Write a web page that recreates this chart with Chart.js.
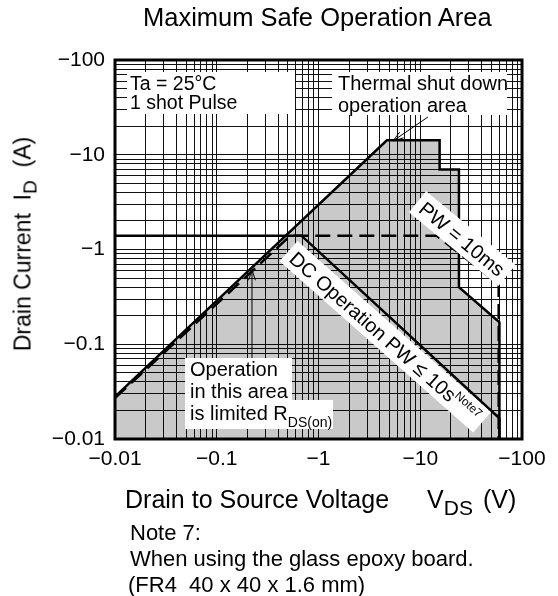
<!DOCTYPE html>
<html>
<head>
<meta charset="utf-8">
<title>Maximum Safe Operation Area</title>
<script src="https://cdn.jsdelivr.net/npm/chart.js@4.4.1/dist/chart.umd.min.js"></script>
<style>
body{
    margin:0;
    background:#fff;
    font-family:"Liberation Sans", Arial, sans-serif;
    color:#000;
}
#page{
    position:relative;
    width:558px;
    height:596px;
    overflow:hidden;
}
#soaChart{
    position:absolute;
    left:0;
    top:0;
}
.txt{
    position:absolute;
    white-space:nowrap;
    line-height:normal;
}
.txt sub{
    vertical-align:-0.32em;
    line-height:0;
}
</style>
</head>
<body>
<div id="page">
    <canvas id="soaChart" width="558" height="596"></canvas>

    <div class="txt" style="left:143px;top:3px;font-size:25.5px;">Maximum Safe Operation Area</div>

    <div class="txt" style="left:23px;top:244px;font-size:23px;transform:translate(-50%,-50%) rotate(-90deg);">Drain Current&nbsp;&nbsp;I<sub style="font-size:19px;">D</sub>&nbsp;&nbsp;(A)</div>

    <div class="txt" style="left:125px;top:485px;font-size:25px;">Drain to Source Voltage<span style="margin-left:38px;">V</span><sub style="font-size:21px;">DS</sub><span style="margin-left:10px;">(V)</span></div>

    <div class="txt" style="left:130px;top:520px;font-size:22px;">Note 7:</div>
    <div class="txt" style="left:130px;top:546px;font-size:22px;">When using the glass epoxy board.</div>
    <div class="txt" style="left:128px;top:572px;font-size:22px;">(FR4&nbsp;&nbsp;40 x 40 x 1.6 mm)</div>
</div>

<script>
/*====================================
        AXIS DECADES AND LABELS
====================================*/

const xDecades = [0.01, 0.1, 1, 10, 100];
const xTickLabels = ["−0.01", "−0.1", "−1", "−10", "−100"];

const yDecades = [0.01, 0.1, 1, 10, 100];
const yTickLabels = ["−0.01", "−0.1", "−1", "−10", "−100"];

const minorSteps = [1, 2, 3, 4, 5, 6, 7, 8, 9];


/*====================================
        SOA CURVES (|VDS| V, |ID| A)
====================================*/

// 1 shot pulse outer limit (shaded area)
const soaVds = [0.01, 4.7, 15.5, 15.5, 24, 24, 60, 60];
const soaId  = [0.028, 14.2, 14.2, 7, 7, 0.4, 0.17, 0.01];

// DC operation PW <= 10 s
const dcVds = [0.01, 0.68, 60, 60];
const dcId  = [1.4, 1.4, 0.0165, 0.01];

// PW = 10 ms (dashed)
const pwVds = [0.01, 0.53, 14.5, 59, 59];
const pwId  = [0.027, 1.4, 1.4, 0.43, 0.01];


/*====================================
        HELPERS
====================================*/

const FONT = '"Liberation Sans", Arial, sans-serif';

function toPoints(xs, ys){
    return xs.map((x, i) => ({x: x, y: ys[i]}));
}

function logGrid(decades){
    const vals = [];
    decades.forEach((d, k) => {
        if(k === decades.length - 1){
            vals.push(d);
            return;
        }
        minorSteps.forEach(m => vals.push(+(d * m).toPrecision(6)));
    });
    return vals;
}

function decadeLabel(decades, labels){
    return function(value){
        const k = decades.findIndex(d => Math.abs(value / d - 1) < 1e-6);
        return k < 0 ? "" : labels[k];
    };
}

function whiteBox(ctx, x, y, w, h){
    ctx.fillStyle = "#fff";
    ctx.fillRect(x, y, w, h);
}

function text(ctx, str, x, y, size){
    ctx.font = size + "px " + FONT;
    ctx.fillStyle = "#000";
    ctx.fillText(str, x, y);
    return ctx.measureText(str).width;
}

function arrow(ctx, x1, y1, x2, y2){
    const a = Math.atan2(y2 - y1, x2 - x1);
    const len = 11;
    const spread = 0.32;
    ctx.beginPath();
    ctx.moveTo(x1, y1);
    ctx.lineTo(x2, y2);
    ctx.moveTo(x2 - len * Math.cos(a - spread), y2 - len * Math.sin(a - spread));
    ctx.lineTo(x2, y2);
    ctx.lineTo(x2 - len * Math.cos(a + spread), y2 - len * Math.sin(a + spread));
    ctx.strokeStyle = "#000";
    ctx.lineWidth = 1;
    ctx.stroke();
}

function tiltedLabel(ctx, cx, cy, deg, parts){
    ctx.save();
    ctx.translate(cx, cy);
    ctx.rotate(deg * Math.PI / 180);
    let w = 0;
    parts.forEach(p => {
        ctx.font = p.size + "px " + FONT;
        p.w = ctx.measureText(p.text).width;
        w += p.w;
    });
    whiteBox(ctx, -w / 2 - 6, -14, w + 12, 27);
    let x = -w / 2;
    parts.forEach(p => {
        text(ctx, p.text, x, 7 + (p.dy || 0), p.size);
        x += p.w;
    });
    ctx.restore();
}


/*====================================
        ANNOTATIONS + FRAME
====================================*/

const soaNotes = {
    id: "soaNotes",
    afterDatasetsDraw(chart){
        const ctx = chart.ctx;
        const xs = chart.scales.x;
        const ys = chart.scales.y;
        const L = chart.chartArea.left;
        const T = chart.chartArea.top;
        const P = (v, i) => [xs.getPixelForValue(v), ys.getPixelForValue(i)];

        ctx.save();
        ctx.textAlign = "left";
        ctx.textBaseline = "alphabetic";

        // conditions
        whiteBox(ctx, L + 12, T + 12, 168, 42);
        text(ctx, "Ta = 25°C", L + 15, T + 30, 19.5);
        text(ctx, "1 shot Pulse", L + 15, T + 49, 19.5);

        // thermal shut down
        whiteBox(ctx, L + 217, T + 12, 175, 43);
        text(ctx, "Thermal shut down", L + 223, T + 30, 20);
        text(ctx, "operation area", L + 223, T + 52, 20);
        const tA = P(11.9, 25);
        const tB = P(5.4, 14);
        arrow(ctx, tA[0], tA[1], tB[0], tB[1]);

        // RDS(on) limited
        whiteBox(ctx, L + 70, T + 298, 107, 42);
        whiteBox(ctx, L + 70, T + 340, 148, 29);
        text(ctx, "Operation", L + 75, T + 316, 20);
        text(ctx, "in this area", L + 75, T + 338, 20);
        const rw = text(ctx, "is limited R", L + 75, T + 360, 20);
        text(ctx, "DS(on)", L + 75 + rw, T + 367, 14);
        const oA = P(0.222, 0.0716);
        const oB = P(0.222, 0.61);
        arrow(ctx, oA[0], oA[1], oB[0], oB[1]);

        // curve labels
        const pw = P(25.7, 1.29);
        tiltedLabel(ctx, pw[0], pw[1], 39.5, [{text: "PW = 10ms", size: 20}]);
        const dc = P(4.5, 0.119);
        tiltedLabel(ctx, dc[0], dc[1], 41.5, [
            {text: "DC Operation PW ≤ 10s", size: 20},
            {text: "Note7", size: 12, dy: -8}
        ]);

        ctx.restore();
    },
    afterDraw(chart){
        const a = chart.chartArea;
        const ctx = chart.ctx;
        ctx.save();
        ctx.strokeStyle = "#000";
        ctx.lineWidth = 3;
        ctx.strokeRect(a.left, a.top, a.right - a.left, a.bottom - a.top);
        ctx.restore();
    }
};


/*====================================
        CHART
====================================*/

Chart.defaults.font.family = FONT;
Chart.defaults.color = "#000";

const lineStyle = {
    showLine: true,
    pointRadius: 0,
    borderColor: "#000",
    borderWidth: 2.5,
    tension: 0
};

const soaChart = new Chart(
document.getElementById("soaChart"),
{
    type: "scatter",
    data: {
        datasets: [
            Object.assign({}, lineStyle, {
                label: "1 shot Pulse",
                data: toPoints(soaVds, soaId),
                fill: "start",
                backgroundColor: "rgba(0,0,0,0.21)",
                order: 3
            }),
            Object.assign({}, lineStyle, {
                label: "PW = 10ms",
                data: toPoints(pwVds, pwId),
                borderDash: [15, 7],
                fill: false,
                order: 2
            }),
            Object.assign({}, lineStyle, {
                label: "DC Operation",
                data: toPoints(dcVds, dcId),
                fill: false,
                order: 1
            })
        ]
    },
    options: {
        responsive: false,
        animation: false,
        devicePixelRatio: 1,
        layout: {
            padding: {left: 0, top: 60, right: 36, bottom: 117}
        },
        plugins: {
            legend: {display: false},
            tooltip: {enabled: false}
        },
        scales: {
            x: {
                type: "logarithmic",
                min: 0.01,
                max: 100,
                afterBuildTicks: s => { s.ticks = logGrid(xDecades).map(v => ({value: v})); },
                afterFit: s => { s.height = 40; },
                ticks: {
                    autoSkip: false,
                    maxRotation: 0,
                    minRotation: 0,
                    padding: 8,
                    font: {size: 21},
                    callback: decadeLabel(xDecades, xTickLabels)
                },
                grid: {color: "#111", lineWidth: 1, drawTicks: false},
                border: {display: false}
            },
            y: {
                type: "logarithmic",
                min: 0.01,
                max: 100,
                afterBuildTicks: s => { s.ticks = logGrid(yDecades).map(v => ({value: v})); },
                afterFit: s => { s.width = 115; },
                ticks: {
                    autoSkip: false,
                    padding: 10,
                    font: {size: 21},
                    callback: decadeLabel(yDecades, yTickLabels)
                },
                grid: {color: "#111", lineWidth: 1, drawTicks: false},
                border: {display: false}
            }
        }
    },
    plugins: [soaNotes]
});
</script>
</body>
</html>
